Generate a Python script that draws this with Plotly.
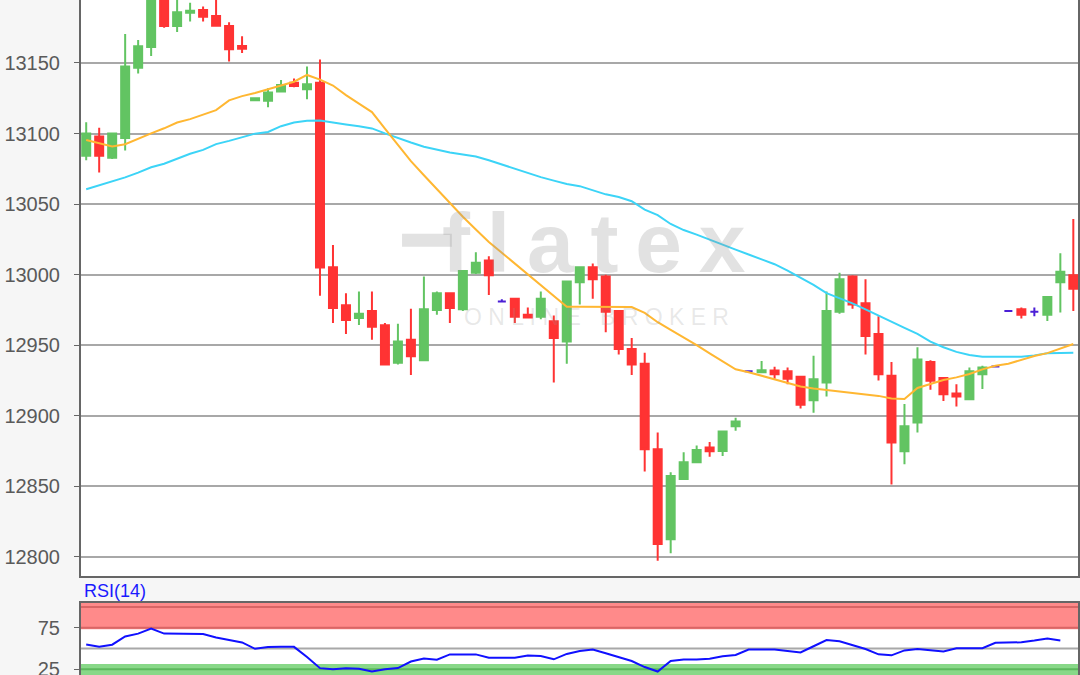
import plotly.graph_objects as go

# ---------------- data ----------------
open_ = [13084.2, 13097.9, 13082.9, 13096.8, 13146.6, 13161.3, 13210.0, 13176.2, 13185.6, 13187.5,
         13183.3, 13176.2, 13162.0, 13123.5, 13123.3, 13129.7, 13136.0, 13131.4, 13136.0, 13005.2,
         12978.4, 12969.2, 12974.2, 12964.2, 12937.6, 12953.9, 12939.4, 12975.0, 12986.8, 12975.5,
         13001.3, 13010.0, 12981.0, 12982.9, 12971.6, 12970.2, 12967.0, 12952.6, 12994.7, 13005.2,
         12998.7, 12974.2, 12947.3, 12936.8, 12876.3, 12812.6, 12855.2, 12867.1, 12877.6, 12875.0,
         12892.6, 12931.5, 12930.8, 12932.0, 12931.5, 12927.6, 12911.0, 12923.6, 12973.7, 12998.7,
         12979.7, 12957.9, 12928.4, 12874.9, 12895.2, 12938.1, 12926.8, 12915.8, 12911.8, 12929.4,
         12935.0, 12974.2, 12975.5, 12973.7, 12971.6, 12994.7, 12999.5]
high_ = [13107.9, 13104.0, 13100.5, 13170.5, 13166.3, 13212.0, 13218.0, 13200.0, 13192.7, 13190.0,
         13197.0, 13178.8, 13169.0, 13125.0, 13132.0, 13138.0, 13139.0, 13147.4, 13152.5, 13021.0,
         12986.8, 12988.1, 12988.1, 12965.8, 12965.2, 12975.8, 12998.7, 12988.1, 12987.0, 13003.0,
         13015.8, 13013.1, 12982.5, 12983.0, 12976.8, 12988.1, 12971.0, 12995.5, 13005.5, 13007.9,
         13000.0, 12975.0, 12955.2, 12944.7, 12888.1, 12860.0, 12874.2, 12878.9, 12881.5, 12889.0,
         12898.6, 12931.5, 12938.9, 12934.7, 12934.2, 12928.4, 12942.6, 12988.1, 13001.3, 12999.5,
         12996.8, 12970.5, 12938.1, 12908.4, 12948.6, 12939.4, 12927.0, 12922.3, 12934.2, 12935.5,
         12935.0, 12974.2, 12976.8, 12976.8, 12984.5, 13015.2, 13039.5]
low_ = [13081.0, 13072.4, 13082.0, 13088.0, 13142.6, 13155.0, 13175.0, 13172.0, 13179.3, 13179.3,
        13176.0, 13151.0, 13157.0, 13123.0, 13118.6, 13129.5, 13132.8, 13124.3, 12985.0, 12965.8,
        12957.9, 12964.4, 12953.9, 12936.0, 12936.3, 12928.9, 12939.0, 12971.6, 12965.8, 12974.2,
        13000.5, 12985.5, 12981.0, 12965.8, 12969.0, 12968.4, 12923.6, 12936.8, 12978.9, 12982.9,
        12959.2, 12943.4, 12928.9, 12860.5, 12797.3, 12802.6, 12855.0, 12866.3, 12871.0, 12871.5,
        12889.4, 12931.5, 12930.2, 12926.3, 12922.3, 12905.2, 12902.1, 12913.7, 12972.3, 12975.8,
        12943.4, 12925.0, 12851.3, 12865.7, 12888.1, 12918.4, 12910.5, 12906.5, 12911.5, 12918.9,
        12935.0, 12974.2, 12968.9, 12970.5, 12967.1, 12973.1, 12974.2]
close_ = [13100.0, 13084.2, 13100.0, 13147.4, 13161.8, 13205.0, 13176.2, 13186.0, 13187.0, 13182.8,
          13176.4, 13159.7, 13160.0, 13125.0, 13129.0, 13134.4, 13133.7, 13134.9, 13005.0, 12976.3,
          12967.9, 12972.3, 12963.1, 12936.3, 12952.6, 12942.1, 12975.5, 12986.8, 12976.3, 13002.6,
          13008.4, 12999.5, 12981.0, 12970.2, 12969.7, 12982.9, 12955.2, 12995.2, 13005.2, 12996.8,
          12973.7, 12947.3, 12936.3, 12876.3, 12809.2, 12857.3, 12867.1, 12875.8, 12874.9, 12888.9,
          12896.0, 12931.5, 12932.3, 12929.4, 12926.3, 12907.9, 12925.8, 12974.2, 12996.8, 12978.9,
          12956.5, 12929.4, 12881.0, 12892.6, 12939.9, 12924.9, 12915.2, 12913.7, 12931.5, 12934.2,
          12935.0, 12974.2, 12971.6, 12973.7, 12984.2, 13002.1, 12990.0]

ma_short = [13095.4, 13093.2, 13090.8, 13092.4, 13096.4, 13100.1, 13103.7, 13107.8, 13110.2, 13113.2,
            13116.6, 13123.5, 13126.5, 13128.7, 13131.2, 13134.0, 13136.7, 13141.5, 13138.2, 13134.0,
            13127.2, 13121.2, 13115.2, 13103.5, 13091.9, 13080.4, 13070.4, 13060.5, 13050.6, 13041.0,
            13032.0, 13023.2, 13015.5, 13007.9, 12999.8, 12992.6, 12984.9, 12977.3, 12977.3, 12977.3,
            12977.3, 12977.3, 12977.0, 12972.9, 12966.3, 12960.9, 12955.6, 12950.1, 12944.2, 12938.5,
            12932.9, 12930.9, 12928.4, 12925.8, 12923.1, 12920.8, 12919.3, 12918.3, 12917.4, 12916.5,
            12915.6, 12914.1, 12912.3, 12911.9, 12919.7, 12922.7, 12925.3, 12927.2, 12929.6, 12932.9,
            12935.4, 12936.9, 12939.9, 12942.4, 12944.4, 12947.7, 12950.9]
ma_long = [13060.5, 13063.2, 13065.8, 13068.9, 13072.3, 13076.1, 13078.6, 13082.3, 13085.7, 13088.4,
           13092.5, 13094.8, 13097.4, 13099.9, 13101.1, 13105.2, 13107.8, 13109.1, 13109.2, 13107.6,
           13106.4, 13105.2, 13103.6, 13100.1, 13096.6, 13093.6, 13090.6, 13088.4, 13086.6, 13085.2,
           13083.7, 13081.0, 13078.0, 13075.0, 13071.9, 13069.1, 13066.6, 13064.3, 13062.7, 13059.8,
           13056.9, 13055.0, 13052.0, 13046.1, 13042.2, 13035.9, 13031.6, 13028.4, 13024.7, 13021.1,
           13017.7, 13014.3, 13010.9, 13007.4, 13002.8, 12997.9, 12992.7, 12986.9, 12983.4, 12979.7,
           12975.4, 12970.9, 12966.5, 12962.3, 12958.1, 12952.5, 12948.6, 12945.3, 12943.1, 12941.9,
           12941.9, 12941.9, 12941.9, 12942.8, 12944.3, 12944.5, 12944.7]
rsi = [54.8, 52.1, 54.6, 64.4, 67.9, 73.9, 67.9, 67.5, 67.5, 67.5,
       63.3, 59.9, 57.3, 49.6, 51.8, 52.0, 52.0, 39.8, 26.4, 25.0,
       26.4, 25.6, 22.5, 25.0, 26.5, 34.3, 38.0, 36.5, 42.9, 42.9,
       42.9, 38.8, 38.5, 38.8, 41.5, 41.0, 37.0, 43.5, 46.9, 48.7,
       44.4, 39.9, 35.0, 27.7, 22.3, 35.0, 36.9, 36.9, 37.7, 40.8,
       42.3, 48.8, 48.8, 48.8, 46.9, 45.2, 52.7, 60.1, 58.6, 53.9,
       49.4, 43.0, 41.8, 47.7, 49.4, 47.9, 46.3, 50.2, 50.4, 50.4,
       56.8, 57.5, 57.5, 59.5, 61.9, 59.5]
price_ticks = [12800, 12850, 12900, 12950, 13000, 13050, 13100, 13150, 13200]
rsi_ticks = [25, 75]

# ---------------- styling ----------------
GREEN = "#62c462"
RED = "#ff3333"
PURPLE = "#4b1fd6"
ORANGE = "#ffb732"
CYAN = "#3cd4f7"
AXIS = "#666666"
GRID = "#a8a8a8"
FONT = "Liberation Sans, Arial, sans-serif"
WM = "rgba(150,150,150,0.28)"

x = list(range(len(open_)))
rsi_x = list(range(len(rsi)))

def pick(vals, doji):
    return [v if ((o == c) == doji) else None for v, o, c in zip(vals, open_, close_)]

fig = go.Figure()
fig.add_trace(go.Candlestick(
    x=x, open=pick(open_, False), high=pick(high_, False), low=pick(low_, False), close=pick(close_, False),
    increasing=dict(line=dict(color=GREEN, width=2), fillcolor=GREEN),
    decreasing=dict(line=dict(color=RED, width=2), fillcolor=RED),
    whiskerwidth=0, showlegend=False, hoverinfo="skip", xaxis="x", yaxis="y"))
fig.add_trace(go.Candlestick(
    x=x, open=pick(open_, True), high=pick(high_, True), low=pick(low_, True), close=pick(close_, True),
    increasing=dict(line=dict(color=PURPLE, width=2), fillcolor=PURPLE),
    decreasing=dict(line=dict(color=PURPLE, width=2), fillcolor=PURPLE),
    whiskerwidth=0, showlegend=False, hoverinfo="skip", xaxis="x", yaxis="y"))
fig.add_trace(go.Scatter(x=x, y=ma_long, mode="lines", line=dict(color=CYAN, width=2),
                         showlegend=False, hoverinfo="skip", xaxis="x", yaxis="y"))
fig.add_trace(go.Scatter(x=x, y=ma_short, mode="lines", line=dict(color=ORANGE, width=2),
                         showlegend=False, hoverinfo="skip", xaxis="x", yaxis="y"))
fig.add_trace(go.Scatter(x=rsi_x, y=rsi, mode="lines", line=dict(color="#1010ff", width=2),
                         showlegend=False, hoverinfo="skip", xaxis="x2", yaxis="y2"))

xr = [-0.4, len(open_) - 1 + 0.36]

shapes = [
    dict(type="rect", xref="x2 domain", yref="y2", x0=0, x1=1, y0=73, y1=110,
         fillcolor="#ff8a8a", line=dict(width=0), layer="below"),
    dict(type="line", xref="x2 domain", yref="y2", x0=0, x1=1, y0=100, y1=100,
         line=dict(color="#d96565", width=2), layer="below"),
    dict(type="line", xref="x2 domain", yref="y2", x0=0, x1=1, y0=75, y1=75,
         line=dict(color="#d96565", width=2), layer="below"),
    dict(type="rect", xref="x2 domain", yref="y2", x0=0, x1=1, y0=0, y1=31.5,
         fillcolor="#88d888", line=dict(width=0), layer="below"),
    dict(type="line", xref="x2 domain", yref="y2", x0=0, x1=1, y0=25, y1=25,
         line=dict(color="#5cb85c", width=2), layer="below"),
    dict(type="line", xref="x2 domain", yref="y2", x0=0, x1=1, y0=50, y1=50,
         line=dict(color=GRID, width=2), layer="below"),
    # watermark bar of the logo
    dict(type="line", xref="paper", yref="paper", x0=0.322, x1=0.372, y0=0.644, y1=0.644,
         line=dict(color=WM, width=13)),
]

annotations = [
    dict(text="f\u2009l\u2009a\u2009t\u2009e\u2009x", xref="paper", yref="paper", x=0.515, y=0.64,
         xanchor="center", yanchor="middle", showarrow=False,
         font=dict(family=FONT, size=84, color=WM, weight="bold")),
    dict(text="O N L I N E   B R O K E R", xref="paper", yref="paper", x=0.517, y=0.531,
         xanchor="center", yanchor="middle", showarrow=False,
         font=dict(family=FONT, size=23, color="rgba(150,150,150,0.22)")),
    dict(text="RSI(14)", xref="paper", yref="paper", x=0.0, y=0.106, xanchor="left", yanchor="bottom",
         showarrow=False, xshift=1, font=dict(family=FONT, size=18, color="#1a1aff")),
]

fig.update_layout(
    width=1080, height=675,
    margin=dict(l=81, r=2, t=0, b=0, autoexpand=False),
    paper_bgcolor="#f6f6f6", plot_bgcolor="white",
    boxgap=0.3, boxgroupgap=0.12,
    showlegend=False,
    shapes=shapes, annotations=annotations,
    xaxis=dict(domain=[0, 1], range=xr, anchor="y", showgrid=False, showticklabels=False,
               ticks="", zeroline=False, showline=True, linecolor=AXIS, linewidth=2,
               rangeslider=dict(visible=False), fixedrange=True),
    yaxis=dict(domain=[0.1467, 1], range=[12786.5, 13194.6], tickvals=price_ticks, tickformat="d",
               gridcolor=GRID, gridwidth=2, zeroline=False, showline=True, mirror=True,
               linecolor=AXIS, linewidth=2, ticks="outside", ticklen=5, tickcolor=AXIS,
               ticklabelstandoff=10, automargin=False, ticklabeloverflow="allow",
               tickfont=dict(family=FONT, size=20, color="#5a5a5a")),
    xaxis2=dict(domain=[0, 1], range=xr, anchor="y2", showgrid=False, showticklabels=False,
                ticks="", zeroline=False, showline=True, mirror=True, linecolor=AXIS, linewidth=2),
    yaxis2=dict(domain=[0, 0.1071], range=[18.15, 105.05], tickvals=rsi_ticks, tickformat="d",
                showgrid=False, zeroline=False, showline=True, mirror=True, linecolor=AXIS,
                linewidth=2, ticks="outside", ticklen=5, tickcolor=AXIS, ticklabelstandoff=10,
                automargin=False, ticklabeloverflow="allow",
                tickfont=dict(family=FONT, size=20, color="#5a5a5a")),
)

fig.write_html("out.html", config={"displayModeBar": False},
               post_script="document.body.style.margin='0';document.body.style.overflow='hidden';")
